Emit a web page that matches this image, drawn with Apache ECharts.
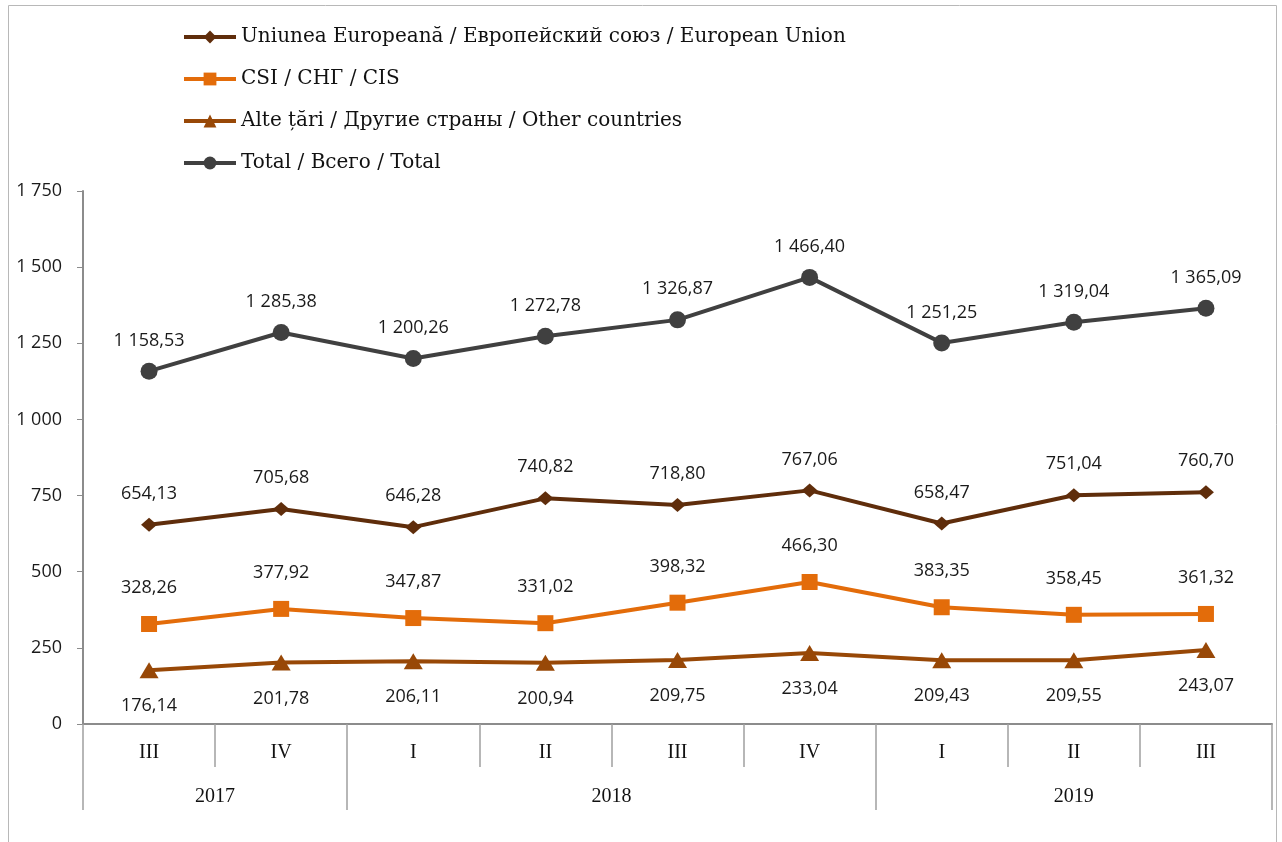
<!DOCTYPE html>
<html>
<head>
<meta charset="utf-8">
<script src="https://cdn.jsdelivr.net/npm/echarts@6/dist/echarts.min.js"></script>
<style>
  html, body { margin: 0; padding: 0; background: #fff; }
  #chartData { width: 1282px; height: 842px; }
</style>
</head>
<body>
<div id="chartData"></div>
<script>
// categorii (trimestre) si ani
var quarters = ['III', 'IV', 'I', 'II', 'III', 'IV', 'I', 'II', 'III'];
var years = ['2017', '2018', '2019'];
var yearSpans = [2, 4, 3];

var seriesNames = [
    'Uniunea Europeană / Европейский союз / European Union',
    'CSI / СНГ / CIS',
    'Alte țări / Другие страны / Other countries',
    'Total / Всего / Total'
];
var euData = [654.13, 705.68, 646.28, 740.82, 718.80, 767.06, 658.47, 751.04, 760.70];
var cisData = [328.26, 377.92, 347.87, 331.02, 398.32, 466.30, 383.35, 358.45, 361.32];
var otherData = [176.14, 201.78, 206.11, 200.94, 209.75, 233.04, 209.43, 209.55, 243.07];
var totalData = [1158.53, 1285.38, 1200.26, 1272.78, 1326.87, 1466.40, 1251.25, 1319.04, 1365.09];

var yTicks = [0, 250, 500, 750, 1000, 1250, 1500, 1750];

// randul cu anii: axa pe jumatati de trimestru (boundaryGap false)
var yearSlots = [];
var yearTickIdx = [0];
for (var i = 0; i <= quarters.length * 2; i++) yearSlots.push('');
var pos = 0;
for (var k = 0; k < years.length; k++) {
    yearSlots[pos + yearSpans[k]] = years[k]; // mijlocul grupului
    pos += yearSpans[k] * 2;
    yearTickIdx.push(pos);
}

function fmtThousands(s) {
    return s.replace(/\B(?=(\d{3})+(?!\d))/g, ' ');
}
function fmtValue(v) {
    var parts = v.toFixed(2).split('.');
    return fmtThousands(parts[0]) + ',' + parts[1];
}

var sansFont = '"Open Sans", "Noto Sans", sans-serif';
var serifFont = '"Liberation Serif", "DejaVu Serif", serif';
var legendFont = '"DejaVu Serif", serif';

var myChart = echarts.init(document.getElementById('chartData'));

var labelStyle = {
    show: true,
    fontFamily: sansFont,
    fontSize: 18,
    color: '#1a1a1a',
    formatter: function (p) { return fmtValue(p.value); }
};

function makeSeries(name, data, color, symbol, size, labelPos, dist) {
    return {
        name: name,
        type: 'line',
        data: data,
        symbol: symbol,
        symbolSize: size,
        showAllSymbol: true,
        lineStyle: { color: color, width: 4 },
        itemStyle: { color: color },
        label: Object.assign({}, labelStyle, { position: labelPos, distance: dist }),
        emphasis: { disabled: true },
        animation: false
    };
}

var option = {
    animation: false,
    graphic: [{
        type: 'rect',
        shape: { x: 8.5, y: 5.5, width: 1268, height: 860 },
        style: { fill: 'none', stroke: '#b8b8b8', lineWidth: 1 },
        silent: true
    }],
    legend: {
        orient: 'vertical',
        left: 177,
        top: 22,
        itemGap: 22,
        itemWidth: 52,
        itemHeight: 16,
        lineStyle: { width: 4 },
        textStyle: { fontFamily: legendFont, fontSize: 20, color: '#111' },
        data: seriesNames
    },
    grid: { left: 83, right: 10, top: 191, bottom: 118 },
    xAxis: [{
        type: 'category',
        data: quarters,
        position: 'bottom',
        axisLine: { lineStyle: { color: '#8c8c8c', width: 2 } },
        axisTick: { show: true, interval: 0, length: 43, lineStyle: { color: '#a0a0a0', width: 1.5 } },
        axisLabel: { interval: 0, margin: 19, fontFamily: serifFont, fontSize: 20, color: '#111' }
    }, {
        type: 'category',
        data: yearSlots,
        boundaryGap: false,
        position: 'bottom',
        offset: 43,
        axisLine: { show: false },
        axisTick: {
            show: true,
            length: 43,
            interval: function (index) { return yearTickIdx.indexOf(index) >= 0; },
            lineStyle: { color: '#a0a0a0', width: 1.5 }
        },
        axisLabel: { interval: 0, margin: 20, fontFamily: serifFont, fontSize: 20, color: '#111' }
    }],
    yAxis: {
        type: 'value',
        min: yTicks[0],
        max: yTicks[yTicks.length - 1],
        interval: yTicks[1] - yTicks[0],
        axisLine: { show: true, lineStyle: { color: '#8c8c8c', width: 2 } },
        axisTick: { show: true, length: 6, lineStyle: { color: '#8c8c8c' } },
        splitLine: { show: false },
        axisLabel: {
            margin: 21,
            fontFamily: sansFont,
            fontSize: 18,
            color: '#1a1a1a',
            formatter: function (v) { return fmtThousands(String(v)); }
        }
    },
    series: [
        makeSeries(seriesNames[0], euData, '#5f2d0b', 'diamond', [16, 14], 'top', 15),
        makeSeries(seriesNames[1], cisData, '#e36c0a', 'rect', 16, 'top', 19),
        makeSeries(seriesNames[2], otherData, '#984807', 'triangle', [19, 16], 'bottom', 19),
        makeSeries(seriesNames[3], totalData, '#404040', 'circle', 17, 'top', 13)
    ]
};

myChart.setOption(option);
</script>
</body>
</html>
